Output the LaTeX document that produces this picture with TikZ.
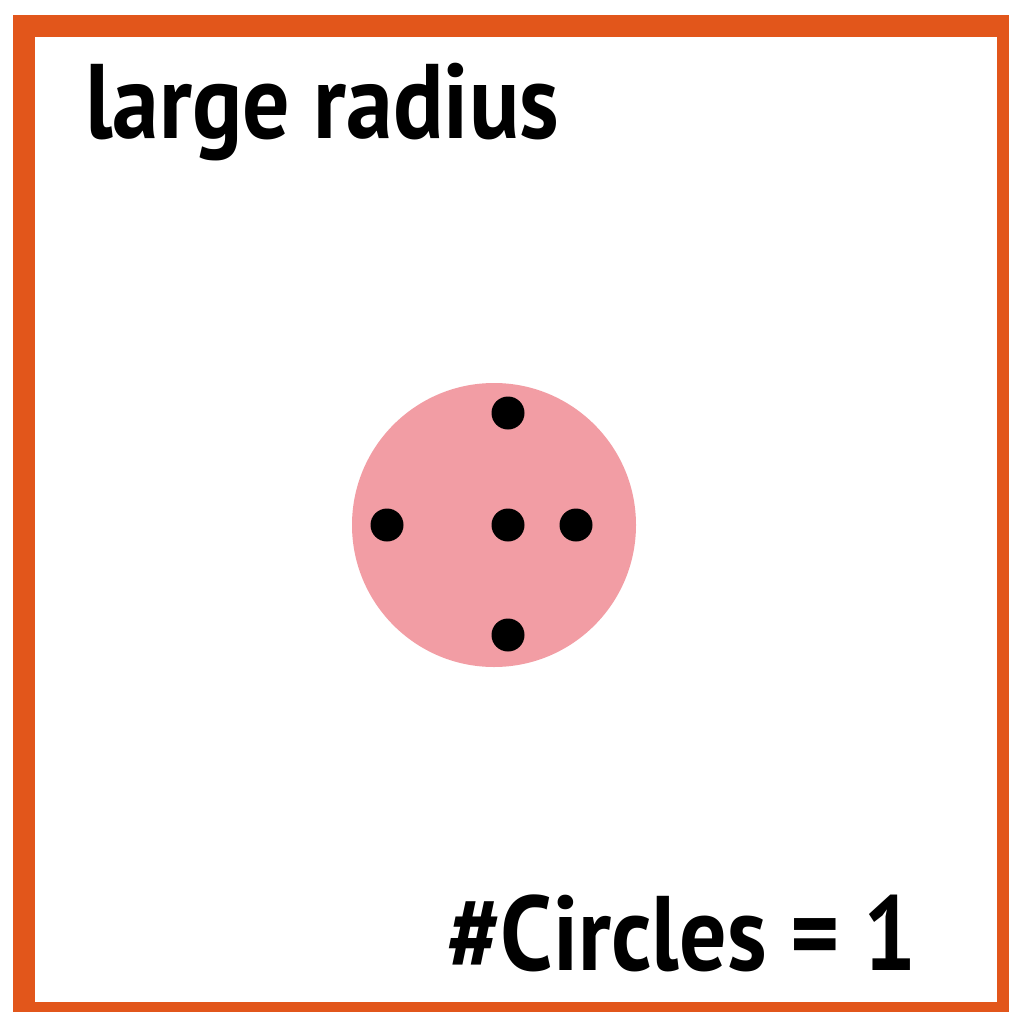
\documentclass[tikz,border=0pt]{standalone}
\usepackage{fontspec}
\setmainfont{PT Sans}
\definecolor{frameorange}{HTML}{E2561B}
\definecolor{discpink}{HTML}{F29DA4}
\begin{document}
\begin{tikzpicture}[x=1pt,y=-1pt,
  lbl/.style={font=\bfseries\fontsize{106}{120}\selectfont, inner sep=0pt, text=black, xscale=0.885},
  dot/.style={circle, fill=black, inner sep=0pt, minimum size=33pt}]
\useasboundingbox (0,0) rectangle (1009,1012);
\fill[white] (0,0) rectangle (1009,1012);
\begin{scope}
\clip (0,0) rectangle (1009,1012);
\draw[frameorange, line width=22pt] (24,26) rectangle (1008,1013);
\end{scope}
\fill[discpink] (494,525) circle (142);
\node[dot] (c) at (508,525) {};
\node[dot] (t) at (508,413) {};
\node[dot] (b) at (508,635) {};
\node[dot] (l) at (387,525) {};
\node[dot] (r) at (576,525) {};
\node[lbl, anchor=base west] (title) at (85,138) {large radius};
\node[lbl, anchor=base east] (count) at (917,970) {\#Circles = 1};
\end{tikzpicture}
\end{document}
